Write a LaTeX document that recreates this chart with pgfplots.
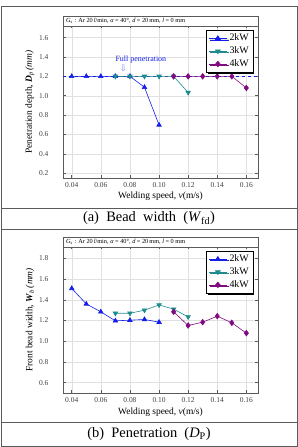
\documentclass[border=0pt]{standalone}
\usepackage{fontspec}
\setmainfont{Liberation Serif}
\newfontfamily\symfont{DejaVu Sans}
\usepackage{pgfplots}
\pgfplotsset{compat=1.18}
\usetikzlibrary{shadows}

\definecolor{kwtwo}{RGB}{20,30,235}
\definecolor{kwthree}{RGB}{30,140,140}
\definecolor{kwfour}{RGB}{128,10,128}
\definecolor{framegray}{RGB}{90,90,90}

\pgfplotsset{
  weldaxis/.style={
    scale only axis,
    width=195bp,
    xmin=0.034, xmax=0.168,
    xtick={0.04,0.06,0.08,0.10,0.12,0.14,0.16},
    /pgf/number format/assume math mode=true,
    xticklabel style={/pgf/number format/fixed,
      /pgf/number format/precision=2,
      /pgf/number format/fixed zerofill, yshift=-1bp},
    yticklabel style={/pgf/number format/fixed,
      /pgf/number format/precision=1,
      /pgf/number format/fixed zerofill, xshift=-11bp},
    tick label style={font=\fontsize{7.5}{8}\selectfont, text=black!75},
    tick align=inside,
    major tick length=2.5bp,
    tick style={framegray, line width=0.5bp},
    grid=major,
    major grid style={black!12, line width=0.4bp},
    axis line style={framegray, line width=0.6bp},
    label style={font=\fontsize{9.5}{10}\selectfont},
    xlabel={Welding speed, \textit{v}(m/s)},
    xlabel style={yshift=2bp},
    ylabel style={yshift=-2bp},
    legend cell align=left,
    legend style={
      at={(0.975,0.975)}, anchor=north east,
      draw=black, line width=0.5bp, fill=white,
      font=\fontsize{10}{11}\selectfont,
      drop shadow={shadow xshift=1.6bp, shadow yshift=-1.6bp,
        fill=black, opacity=1},
      row sep=0.5bp, inner sep=2bp},
    legend image post style={xscale=1.1},
    every axis plot/.append style={line width=0.6bp},
  },
  two/.style={kwtwo, mark=triangle*, mark size=2.6bp, mark options={fill=kwtwo}},
  three/.style={kwthree, mark=triangle*, mark size=2.6bp, mark options={fill=kwthree, rotate=180}},
  four/.style={kwfour, mark=diamond*, mark size=2.8bp, mark options={fill=kwfour}},
}

\newcommand{\conditions}{\fontsize{6.3}{7}\selectfont
  \textit{G}\textsubscript{s} : Ar 20\,\textit{l}/min, \textit{α} = 40°, \textit{d} = 20\,mm, \textit{l} = 0 mm}

\begin{document}
\begin{tikzpicture}
\path[use as bounding box] (0,0) rectangle (298bp,447bp);

% outer frame and caption rows
\draw[framegray, line width=0.8bp] (1bp,1bp) rectangle (297bp,441bp);
\draw[framegray, line width=0.8bp] (1bp,239bp) -- (297bp,239bp);
\draw[framegray, line width=0.8bp] (1bp,218bp) -- (297bp,218bp);
\draw[framegray, line width=0.8bp] (1bp,25bp) -- (297bp,25bp);
\node[font=\fontsize{14.5}{16}\selectfont] at (149bp,228.5bp)
  {(a)\ \ Bead\ \ width\ \ (\textit{W}\textsubscript{fd})};
\node[font=\fontsize{14.5}{16}\selectfont] at (149bp,13bp)
  {(b)\ \ Penetration\ \ (\textit{D}\textsubscript{P})};

% penetration depth
\begin{axis}[weldaxis, name=top,
  at={(63bp,269bp)}, anchor=south west,
  height=152bp,
  ymin=0.15, ymax=1.72,
  ytick={0.2,0.4,...,1.6},
  ylabel={Penetration depth, \textbf{\textit{D}}\textsubscript{\textit{p}}\,\textit{(mm)}},
]
\addplot[kwtwo, dashed, line width=0.5bp, forget plot] coordinates {(0.034,1.2) (0.168,1.2)};
\addplot[two] coordinates {
  (0.04,1.20) (0.05,1.20) (0.06,1.20) (0.07,1.20) (0.08,1.20) (0.09,1.087) (0.10,0.698)};
\addplot[three] coordinates {
  (0.07,1.20) (0.08,1.20) (0.09,1.20) (0.10,1.20) (0.11,1.20) (0.12,1.033)};
\addplot[four] coordinates {
  (0.11,1.20) (0.12,1.20) (0.13,1.20) (0.14,1.20) (0.15,1.20) (0.16,1.08)};
\legend{2kW,3kW,4kW}
\node[text=kwtwo, font=\fontsize{8}{9}\selectfont] at (axis cs:0.0875,1.375) {Full penetration};
\node[text=kwtwo!55, font=\symfont\fontsize{9}{9}\selectfont, inner sep=0pt] at (axis cs:0.0755,1.285) {⇩};
\end{axis}
\draw[framegray, line width=0.6bp] (top.north west) rectangle ([yshift=10bp]top.north east);
\node[anchor=west, inner sep=0pt] at ([xshift=3bp, yshift=5bp]top.north west) {\conditions};

% front bead width
\begin{axis}[weldaxis, name=bot,
  at={(63bp,54bp)}, anchor=south west,
  height=146bp,
  ymin=0.5, ymax=1.91,
  ytick={0.6,0.8,...,1.8},
  ylabel={Front bead width, \textbf{\textit{W}}\textsubscript{\textit{b}}\,\textit{(mm)}},
]
\addplot[two] coordinates {
  (0.04,1.51) (0.05,1.36) (0.06,1.284) (0.07,1.197) (0.08,1.203) (0.09,1.21) (0.10,1.184)};
\addplot[three] coordinates {
  (0.07,1.27) (0.08,1.27) (0.09,1.30) (0.10,1.35) (0.11,1.31) (0.12,1.235)};
\addplot[four] coordinates {
  (0.11,1.284) (0.12,1.152) (0.13,1.184) (0.14,1.242) (0.15,1.178) (0.16,1.078)};
\legend{2kW,3kW,4kW}
\end{axis}
\draw[framegray, line width=0.6bp] (bot.north west) rectangle ([yshift=10bp]bot.north east);
\node[anchor=west, inner sep=0pt] at ([xshift=3bp, yshift=5bp]bot.north west) {\conditions};
\end{tikzpicture}
\end{document}
